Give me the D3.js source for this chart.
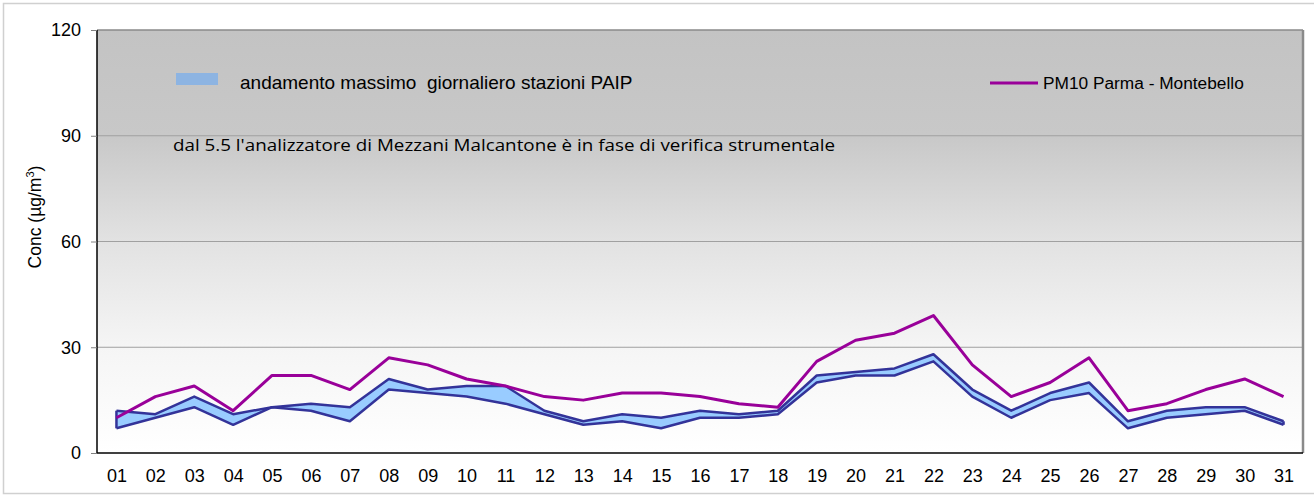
<!DOCTYPE html>
<html>
<head>
<meta charset="utf-8">
<script src="https://cdn.jsdelivr.net/npm/d3@7"></script>
<style>
  body { margin: 0; background: #fff; }
  svg { display: block; font-family: "Liberation Sans", Arial, sans-serif; }
</style>
</head>
<body>
<svg id="chart" width="1314" height="497"></svg>
<script>
// days of the month
var days = ["01","02","03","04","05","06","07","08","09","10","11","12","13","14","15","16",
            "17","18","19","20","21","22","23","24","25","26","27","28","29","30","31"];
// PAIP stations band: daily max range (upper / lower)
var paipUpper = [12,11,16,11,13,14,13,21,18,19,19,12,9,11,10,12,11,12,22,23,24,28,18,12,17,20,9,12,13,13,9];
var paipLower = [7,10,13,8,13,12,9,18,17,16,14,11,8,9,7,10,10,11,20,22,22,26,16,10,15,17,7,10,11,12,8];
// PM10 Parma - Montebello
var pm10 = [10,16,19,12,22,22,18,27,25,21,19,16,15,17,17,16,14,13,26,32,34,39,25,16,20,27,12,14,18,21,16];
var yTicks = [0,30,60,90,120];

var svg = d3.select("#chart");
var pLeft = 97, pRight = 1303, pTop = 30, pBottom = 453;

var xScale = d3.scalePoint().domain(days).range([pLeft, pRight]).padding(0.5);
var yScale = d3.scaleLinear().domain([0,120]).range([pBottom, pTop]);

// outer frame
svg.append("rect")
    .attr("x", 3.5).attr("y", 3.5).attr("width", 1320).attr("height", 490)
    .attr("fill", "#fff").attr("stroke", "#d0d0d0").attr("stroke-width", 1.5);

// plot background gradient
var grad = svg.append("defs").append("linearGradient")
    .attr("id", "bg").attr("x1", 0).attr("y1", 0).attr("x2", 0).attr("y2", 1);
[[0,"#c3c3c3"],[0.25,"#c8c8c8"],[0.5,"#e2e2e2"],[0.75,"#f5f5f5"],[1,"#ffffff"]].forEach(function(s){
    grad.append("stop").attr("offset", s[0]).attr("stop-color", s[1]);
});
svg.append("rect")
    .attr("x", pLeft).attr("y", pTop).attr("width", pRight - pLeft).attr("height", pBottom - pTop)
    .attr("fill", "url(#bg)");

// gridlines
svg.append("g").selectAll("line")
    .data(yTicks.filter(function(d){ return d > 0; }))
    .enter().append("line")
    .attr("x1", pLeft).attr("x2", pRight)
    .attr("y1", function(d){ return yScale(d); })
    .attr("y2", function(d){ return yScale(d); })
    .attr("stroke", function(d){ return d == 120 ? "#8a8a8a" : "#a0a0a0"; })
    .attr("stroke-width", function(d){ return d == 120 ? 1.5 : 1; });

// right border (shadowed)
svg.append("line")
    .attr("x1", pRight).attr("x2", pRight).attr("y1", pTop).attr("y2", pBottom)
    .attr("stroke", "#8a8a8a").attr("stroke-width", 2.5);

// band
var area = d3.area()
    .x(function(d, i){ return xScale(days[i]); })
    .y0(function(d, i){ return yScale(paipLower[i]); })
    .y1(function(d){ return yScale(d); });
svg.append("path")
    .datum(paipUpper)
    .attr("fill", "#99ccff")
    .attr("d", area);

var line = d3.line()
    .x(function(d, i){ return xScale(days[i]); })
    .y(function(d){ return yScale(d); });

[paipUpper, paipLower].forEach(function(s){
    svg.append("path")
        .datum(s)
        .attr("fill", "none")
        .attr("stroke", "#333399")
        .attr("stroke-width", 2.5)
        .attr("stroke-linejoin", "round")
        .attr("d", line);
});
// band edge at start / end
[0, 30].forEach(function(i){
    svg.append("line")
        .attr("x1", xScale(days[i])).attr("x2", xScale(days[i]))
        .attr("y1", yScale(paipUpper[i])).attr("y2", yScale(paipLower[i]))
        .attr("stroke", "#333399").attr("stroke-width", 2.5);
});

svg.append("path")
    .datum(pm10)
    .attr("fill", "none")
    .attr("stroke", "#990099")
    .attr("stroke-width", 3)
    .attr("stroke-linejoin", "round")
    .attr("d", line);

// axes
var yAxis = svg.append("g")
    .attr("transform", "translate(" + pLeft + ",0)")
    .call(d3.axisLeft(yScale).tickValues(yTicks).tickSize(6).tickPadding(10));
yAxis.select(".domain").attr("stroke", "#000").attr("stroke-width", 1.5).attr("d", "M0," + pTop + "V" + pBottom);
yAxis.selectAll(".tick line").attr("stroke", "#808080");
yAxis.selectAll("text").attr("font-size", "18px").attr("fill", "#000")
    .attr("font-family", "Liberation Sans, Arial, sans-serif");

var xAxis = svg.append("g")
    .attr("transform", "translate(0," + pBottom + ")")
    .call(d3.axisBottom(xScale).tickSize(0).tickPadding(16));
xAxis.select(".domain").attr("stroke", "#000").attr("stroke-width", 1.5).attr("d", "M" + pLeft + ",0H" + pRight);
xAxis.selectAll("text").attr("font-size", "18px").attr("fill", "#000")
    .attr("font-family", "Liberation Sans, Arial, sans-serif");

// y title
var yt = svg.append("text")
    .attr("transform", "translate(41,217) rotate(-90)")
    .attr("text-anchor", "middle")
    .attr("font-size", "17.5px")
    .attr("fill", "#000");
yt.append("tspan").text("Conc (µg/m");
yt.append("tspan").attr("font-size", "11px").attr("dy", -7).text("3");
yt.append("tspan").attr("dy", 7).text(")");

// legend
svg.append("rect")
    .attr("x", 176).attr("y", 73).attr("width", 42).attr("height", 12)
    .attr("fill", "#8db4e2");
svg.append("text")
    .attr("x", 240).attr("y", 89)
    .attr("font-size", "19px").attr("fill", "#000")
    .attr("xml:space", "preserve")
    .text("andamento massimo  giornaliero stazioni PAIP");

svg.append("line")
    .attr("x1", 990).attr("x2", 1038).attr("y1", 83).attr("y2", 83)
    .attr("stroke", "#990099").attr("stroke-width", 3);
svg.append("text")
    .attr("x", 1043).attr("y", 89)
    .attr("font-size", "17.3px").attr("fill", "#000")
    .text("PM10 Parma - Montebello");

// note
svg.append("text")
    .attr("x", 173).attr("y", 151)
    .attr("font-family", "'Open Sans', sans-serif")
    .attr("font-size", "16.5px").attr("fill", "#000")
    .attr("textLength", 662).attr("lengthAdjust", "spacingAndGlyphs")
    .text("dal 5.5 l'analizzatore di Mezzani Malcantone è in fase di verifica strumentale");
</script>
</body>
</html>
